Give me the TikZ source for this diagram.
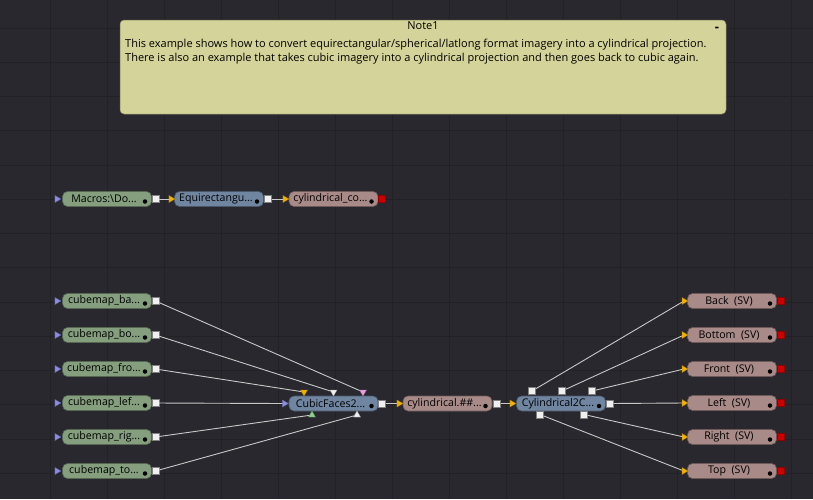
\documentclass[tikz,border=0pt]{standalone}
\usepackage{fontspec}
\setmainfont{Open Sans}
\usetikzlibrary{shapes.geometric}
\definecolor{bg}{HTML}{28282E}
\definecolor{gridc}{HTML}{222226}
\definecolor{notec}{HTML}{D4D49A}
\definecolor{greenn}{HTML}{849E7E}
\definecolor{bluen}{HTML}{7086A0}
\definecolor{brownn}{HTML}{A88A88}
\definecolor{tblue}{HTML}{8C8CE6}
\definecolor{torange}{HTML}{F2B200}
\definecolor{tpink}{HTML}{E8A0E0}
\definecolor{tgreen}{HTML}{8CD08C}
\definecolor{twhite}{HTML}{F0F0F0}
\definecolor{redsq}{HTML}{CC0000}
\definecolor{wire}{HTML}{C8C8C8}
\newcommand\ddd{...}
\newcommand\mktool[6]{%
  \node[tool=#4] (#1) at (#2,#3) {};
  \node[tooltext] (#1-txt) at (#2-3,#3) {#5};
  \node[dotm] (#1-dot) at (#2+#6,#3+2.5) {};
}
\begin{document}
\begin{tikzpicture}[x=1pt,y=-1pt,
 tool/.style={rectangle, rounded corners=5pt, minimum width=89pt, minimum height=15pt,
   inner sep=0pt, fill=#1, draw=#1!65!black, line width=0.6pt},
 tooltext/.style={inner sep=0pt, font=\fontsize{10.6}{12}\selectfont, text=black},
 osq/.style={rectangle, minimum size=7pt, inner sep=0pt, fill=white!94!black, draw=gray, line width=0.4pt},
 rsq/.style={rectangle, minimum size=7pt, inner sep=0pt, fill=redsq, draw=redsq!70!black, line width=0.4pt},
 tri/.style={isosceles triangle, isosceles triangle apex angle=60, isosceles triangle stretches,
   minimum width=7pt, minimum height=6pt, inner sep=0pt,
   fill=#1, draw=#1!70!black, line width=0.3pt},
 wirel/.style={draw=wire, line width=0.9pt},
 dotm/.style={circle, fill=black, inner sep=0pt, minimum size=4.5pt},
 notetext/.style={font=\fontsize{11}{14}\selectfont, text=black},
]
\useasboundingbox (0,0) rectangle (813,499);
\fill[bg] (0,0) rectangle (813,499);
\foreach \gx in {50,107,...,800} \draw[gridc, line width=0.8pt] (\gx,0) -- (\gx,499);
\foreach \gy in {28,62.25,...,499} \draw[gridc, line width=0.8pt] (0,\gy) -- (813,\gy);

% Note
\node[rectangle, rounded corners=4pt, fill=notec, draw=notec!60!black, line width=0.5pt,
  minimum width=606pt, minimum height=94pt, inner sep=0pt] (note) at (423,67) {};
\node[notetext] (notetitle) at (423,26) {Note1};
\node[notetext, font=\fontsize{13}{13}\bfseries] (notemin) at (717,29) {-};
\node[notetext, anchor=north west, align=left, inner sep=0pt] (notebody) at (125,38.5)
 {This example shows how to convert equirectangular/spherical/latlong format imagery into a cylindrical projection.\\
  There is also an example that takes cubic imagery into a cylindrical projection and then goes back to cubic again.};

% Top row
\mktool{mac}{107}{199}{greenn}{Macros:\textbackslash Do\ddd}{38}
\mktool{equ}{219}{199}{bluen}{Equirectangu\ddd}{38}
\mktool{cyc}{333.5}{199}{brownn}{cylindrical\_co\ddd}{38}
\node[tri=tblue] (mac-in) at (57,199) {};
\node[osq] (mac-out) at (155.5,199) {};
\node[tri=torange] (equ-in) at (171,199) {};
\node[osq] (equ-out) at (268,199) {};
\node[tri=torange] (cyc-in) at (285,199) {};
\node[rsq] (cyc-out) at (382,199) {};
\draw[wirel] (mac-out) -- (equ-in);
\draw[wirel] (equ-out) -- (cyc-in);

% Left column
\foreach \nm/\yy/\tx in {l1/301/{cubemap\_ba\ddd},l2/335/{cubemap\_bo\ddd},l3/369/{cubemap\_fro\ddd},l4/403/{cubemap\_lef\ddd},l5/437/{cubemap\_rig\ddd},l6/471/{cubemap\_to\ddd}}{
  \mktool{\nm}{107}{\yy}{greenn}{\tx}{38}
  \node[tri=tblue] (\nm-in) at (57,\yy) {};
  \node[osq] (\nm-out) at (155.5,\yy) {};
}

% CubicFaces
\mktool{cub}{333.5}{403.5}{bluen}{CubicFaces2\ddd}{38}
\node[tri=tblue] (cub-in) at (284.5,403.5) {};
\node[tri=torange, shape border rotate=270] (cub-t1) at (304,392) {};
\node[tri=twhite, shape border rotate=270] (cub-t2) at (333.5,392) {};
\node[tri=tpink, shape border rotate=270] (cub-t3) at (363,392) {};
\node[tri=tgreen, shape border rotate=90] (cub-b1) at (312,415) {};
\node[tri=twhite, shape border rotate=90] (cub-b2) at (357,415) {};
\node[osq] (cub-out) at (382,403.5) {};

\draw[wirel] (l1-out) -- (cub-t3);
\draw[wirel] (l2-out) -- (cub-t2);
\draw[wirel] (l3-out) -- (cub-t1);
\draw[wirel] (l4-out) -- (cub-in);
\draw[wirel] (l5-out) -- (cub-b1);
\draw[wirel] (l6-out) -- (cub-b2);

% cylindrical.##
\mktool{cyl}{447.5}{403.5}{brownn}{cylindrical.\#\#\ddd}{38}
\node[tri=torange] (cyl-in) at (399,403.5) {};
\node[osq] (cyl-out) at (497,403.5) {};
\draw[wirel] (cub-out) -- (cyl-in);

% Cylindrical2C
\mktool{c2c}{561}{403.5}{bluen}{Cylindrical2C\ddd}{38}
\node[tri=torange] (c2c-in) at (512,403.5) {};
\draw[wirel] (cyl-out) -- (c2c-in);
\node[osq] (c2c-t1) at (532,391) {};
\node[osq] (c2c-t2) at (562,391) {};
\node[osq] (c2c-t3) at (592,391) {};
\node[osq] (c2c-r) at (610,403.5) {};
\node[osq] (c2c-b1) at (540,414.5) {};
\node[osq] (c2c-b2) at (584,414.5) {};

% Right column
\foreach \nm/\yy/\tx in {r1/301/Back,r2/335/Bottom,r3/369/Front,r4/403/Left,r5/437/Right,r6/471/Top}{
  \mktool{\nm}{732}{\yy}{brownn}{\tx~~(SV)}{38}
  \node[tri=torange] (\nm-in) at (684,\yy) {};
  \node[rsq] (\nm-out) at (781,\yy) {};
}
\draw[wirel] (c2c-t1) -- (r1-in);
\draw[wirel] (c2c-t2) -- (r2-in);
\draw[wirel] (c2c-t3) -- (r3-in);
\draw[wirel] (c2c-r) -- (r4-in);
\draw[wirel] (c2c-b2) -- (r5-in);
\draw[wirel] (c2c-b1) -- (r6-in);
\end{tikzpicture}
\end{document}
